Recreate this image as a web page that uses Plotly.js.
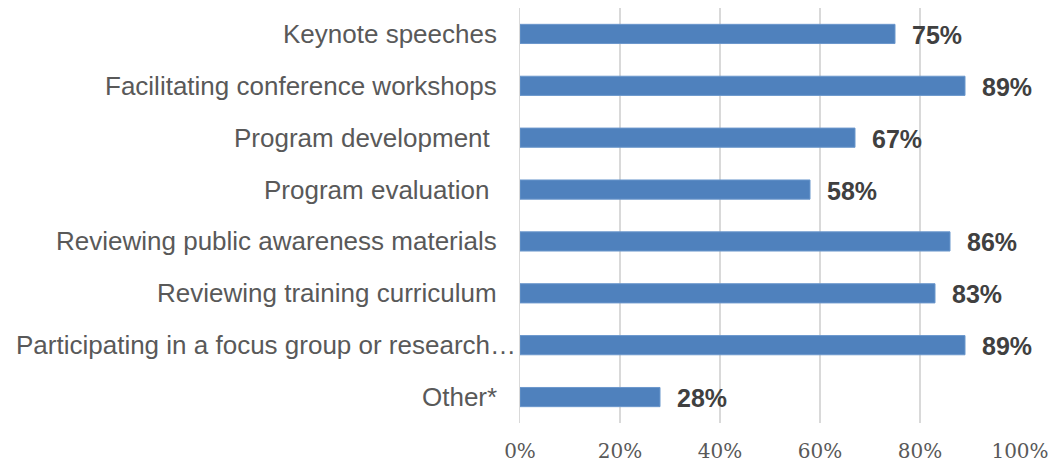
<!DOCTYPE html>
<html>
<head>
<meta charset="utf-8">
<script src="https://cdn.plot.ly/plotly-3.0.1.min.js"></script>
<style>html,body{margin:0;padding:0;background:#fff;}#chart{width:1054px;height:465px;}</style>
</head>
<body>
<div id="chart"></div>
<script>
const categories = [
  "Keynote speeches",
  "Facilitating conference workshops",
  "Program development\u00a0",
  "Program evaluation\u00a0",
  "Reviewing public awareness materials",
  "Reviewing training curriculum",
  "Participating in a focus group or research\u2026",
  "Other*"
];
const values = [75, 89, 67, 58, 86, 83, 89, 28];
const tickValues = [0, 20, 40, 60, 80, 100];
const tickLabels = ["0%", "20%", "40%", "60%", "80%", "100%"];

const trace = {
  type: 'bar',
  orientation: 'h',
  y: categories,
  x: values,
  marker: {color: '#4F81BD', line: {color: '#6B97CC', width: 1}},
  hoverinfo: 'none'
};

const labelFont = {family: 'Liberation Sans, Arial, sans-serif', size: 26, color: '#595959'};

// value labels
const valueAnnotations = values.map((v, i) => ({
  x: v, y: categories[i], xref: 'x', yref: 'y',
  text: v + '%', showarrow: false, xanchor: 'left', xshift: 15, yshift: -1,
  font: {family: 'Liberation Sans, Arial, sans-serif', size: 25, color: '#404040', weight: 'bold'}
}));

// category labels (truncated label overflows toward the axis, as in the source)
const categoryAnnotations = categories.map(c => ({
  x: 0, y: c, xref: 'x', yref: 'y',
  text: c, showarrow: false, xanchor: 'right',
  xshift: c.endsWith('\u2026') ? -2 : -21, yshift: 0,
  font: labelFont
}));

const layout = {
  width: 1054, height: 465,
  margin: {l: 520, r: 34, t: 8, b: 42, pad: 0},
  paper_bgcolor: '#fff', plot_bgcolor: '#fff',
  showlegend: false,
  bargap: 0.63,
  xaxis: {
    range: [0, 100], tickvals: tickValues, ticktext: tickLabels,
    showgrid: true, gridcolor: '#d9d9d9', gridwidth: 1.5,
    zeroline: false, showline: false, ticks: '', fixedrange: true,
    tickfont: {family: 'DejaVu Serif, serif', size: 20, color: '#595959'},
    ticklabelstandoff: 14
  },
  yaxis: {
    autorange: 'reversed', type: 'category',
    showgrid: false, zeroline: false, showline: true, linecolor: '#d9d9d9', linewidth: 1.5,
    ticks: '', showticklabels: false
  },
  annotations: categoryAnnotations.concat(valueAnnotations)
};

Plotly.newPlot('chart', [trace], layout, {displayModeBar: false, staticPlot: true});
</script>
</body>
</html>
